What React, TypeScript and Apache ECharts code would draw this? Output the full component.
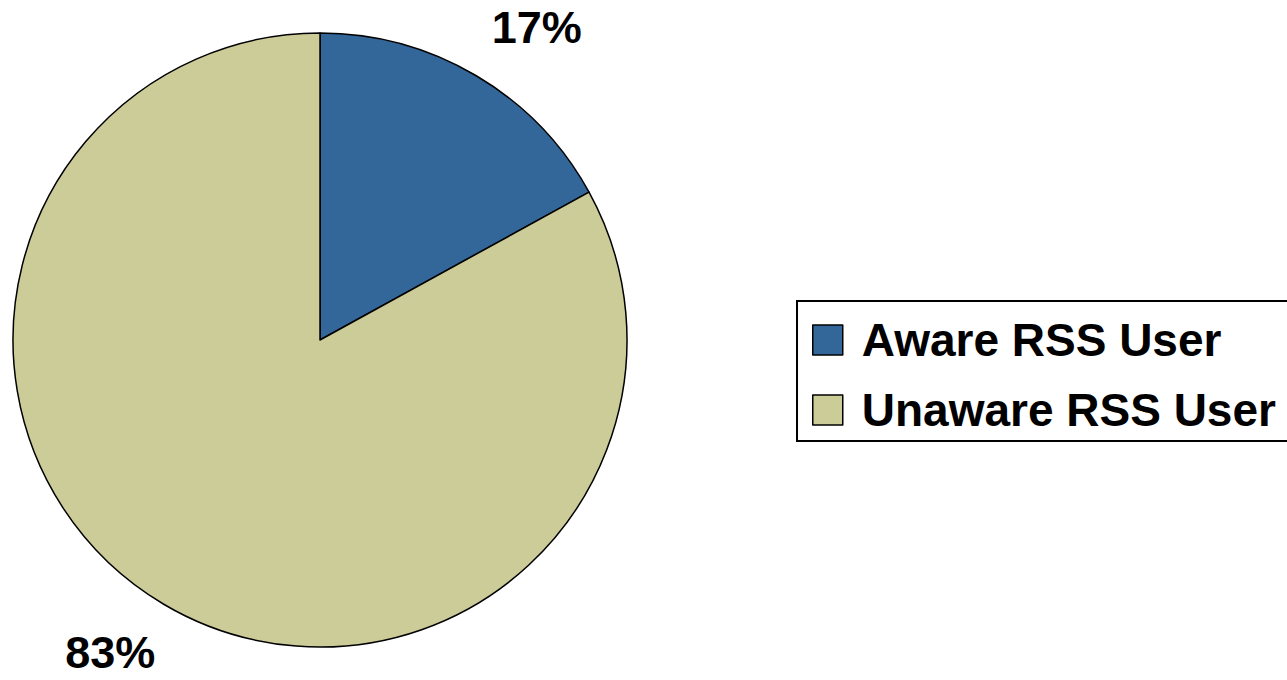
import React, { useEffect, useRef } from "react";
import * as echarts from "echarts";

const categories = ["Aware RSS User", "Unaware RSS User"];
const values = [17, 83];
const colors = ["#336699", "#CCCC99"];
const labelShift = [-13, -20];

const FONT = "'Liberation Sans', Arial, sans-serif";

export default function App() {
  const ref = useRef<HTMLDivElement>(null);
  useEffect(() => {
    if (!ref.current) return;
    const chart = echarts.init(ref.current, undefined, { renderer: "svg" });
    chart.setOption({
      animation: false,
      backgroundColor: "#ffffff",
      legend: {
        orient: "vertical",
        left: 797,
        top: 301,
        padding: [16, 400, 8, 15],
        borderColor: "#000",
        borderWidth: 2,
        itemWidth: 30,
        itemHeight: 30,
        itemGap: 24,
        icon: "rect",
        selectedMode: false,
        itemStyle: { borderColor: "#000", borderWidth: 1.5 },
        textStyle: {
          fontFamily: FONT,
          fontWeight: "bold",
          fontSize: 46,
          color: "#000",
          padding: [0, 0, 0, 14],
        },
        data: categories,
      },
      series: [
        {
          type: "pie",
          center: [320, 340],
          radius: 307,
          startAngle: 90,
          clockwise: true,
          silent: true,
          itemStyle: { borderColor: "#000", borderWidth: 1.5 },
          label: {
            show: true,
            position: "outside",
            formatter: "{d}%",
            fontFamily: FONT,
            fontWeight: "bold",
            fontSize: 45,
            color: "#000",
            distanceToLabelLine: 0,
          },
          labelLine: { show: false, length: 56, length2: -13 },
          data: categories.map((name, i) => ({
            name,
            value: values[i],
            itemStyle: { color: colors[i] },
            labelLine: { show: false, length: 56, length2: labelShift[i] },
          })),
        },
      ],
    });
    return () => chart.dispose();
  }, []);
  return (
    <div
      ref={ref}
      style={{ position: "fixed", left: 0, top: 0, width: 1287, height: 680 }}
    />
  );
}
